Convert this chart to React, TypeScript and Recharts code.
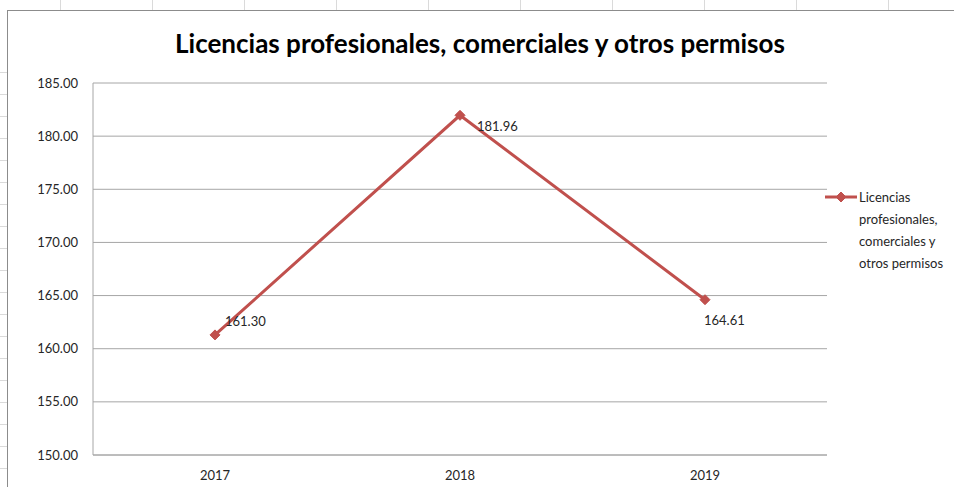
import React from 'react';
import { LineChart, Line, XAxis, YAxis, CartesianGrid, LabelList } from 'recharts';

const years = ['2017', '2018', '2019'];
const licencias = [161.3, 181.96, 164.61];
const yTicks = [150, 155, 160, 165, 170, 175, 180, 185];

const seriesName = 'Licencias profesionales, comerciales y otros permisos';
const legendLines = ['Licencias', 'profesionales,', 'comerciales y', 'otros permisos'];

// manual data label offsets (dx, dy from the point), like the Excel original
const labelOffsets = [
  [10, -13],
  [17, 11],
  [-1, 21],
];

const data = years.map((year, i) => ({ year, value: licencias[i] }));

const RED = '#C0504D';
const FONT = 'Lato, "Open Sans", sans-serif';

const Diamond = (props: any) => {
  const { cx, cy } = props;
  if (cx == null || cy == null) return null;
  const r = 5;
  return (
    <polygon
      points={`${cx},${cy - r} ${cx + r},${cy} ${cx},${cy + r} ${cx - r},${cy}`}
      fill={RED}
      stroke={RED}
    />
  );
};

const DataLabel = (props: any) => {
  const { x, y, value, index } = props;
  const [dx, dy] = labelOffsets[index] || [0, 0];
  return (
    <text
      x={x + dx}
      y={y + dy}
      dy="0.35em"
      fontSize={13}
      fontFamily={FONT}
      fill="#262626"
    >
      {Number(value).toFixed(2)}
    </text>
  );
};

const LegendBox = () => (
  <div
    style={{
      position: 'absolute',
      left: 824,
      top: 186,
      width: 130,
      fontFamily: FONT,
      fontSize: 13,
      color: '#262626',
    }}
  >
    <svg width={34} height={12} style={{ position: 'absolute', left: 0, top: 5 }}>
      <line x1={1} y1={6} x2={33} y2={6} stroke={RED} strokeWidth={3} />
      <Diamond cx={17} cy={6} />
    </svg>
    <div style={{ position: 'absolute', left: 35, top: 0, lineHeight: '22px', whiteSpace: 'nowrap' }}>
      {legendLines.map((t) => (
        <div key={t}>{t}</div>
      ))}
    </div>
  </div>
);

const SheetGrid = () => {
  const cols = [60, 152, 244, 336, 428, 520, 612, 704, 796, 888];
  const rows = Array.from({ length: 19 }, (_, i) => 72 + i * 22);
  return (
    <svg width={954} height={487} style={{ position: 'absolute', left: 0, top: 0 }}>
      {cols.map((x) => (
        <line key={'c' + x} x1={x + 0.5} y1={0} x2={x + 0.5} y2={11} stroke="#dadada" />
      ))}
      {rows.map((y) => (
        <line key={'r' + y} x1={0} y1={y + 0.5} x2={7} y2={y + 0.5} stroke="#dadada" />
      ))}
    </svg>
  );
};

export default function App() {
  return (
    <div
      style={{
        position: 'absolute',
        left: 0,
        top: 0,
        width: 954,
        height: 487,
        overflow: 'hidden',
        background: '#fff',
      }}
    >
      <SheetGrid />
      <div
        style={{
          position: 'absolute',
          left: 7,
          top: 10,
          width: 960,
          height: 490,
          border: '1px solid #8c8c8c',
          background: '#fff',
        }}
      />
      <div
        style={{
          position: 'absolute',
          left: 0,
          top: 27,
          width: 960,
          textAlign: 'center',
          fontFamily: FONT,
          fontWeight: 700,
          fontSize: 26,
          color: '#000',
        }}
      >
        {seriesName}
      </div>
      <div style={{ position: 'absolute', left: 0, top: 0 }}>
        <LineChart
          width={954}
          height={487}
          data={data}
          margin={{ top: 83, right: 127, bottom: 0, left: 0 }}
        >
          <CartesianGrid vertical={false} stroke="#a6a6a6" strokeWidth={1} />
          <XAxis
            dataKey="year"
            height={32}
            padding={{ left: 122, right: 122 }}
            axisLine={{ stroke: '#a6a6a6' }}
            tickLine={false}
            tickSize={0}
            tickMargin={16}
            tick={{ fontSize: 13, fontFamily: FONT, fill: '#262626' }}
          />
          <YAxis
            width={93}
            domain={[150, 185]}
            ticks={yTicks}
            interval={0}
            tickFormatter={(v: number) => v.toFixed(2)}
            axisLine={{ stroke: '#a6a6a6' }}
            tickLine={false}
            tickSize={0}
            tickMargin={15}
            tick={{ fontSize: 13, fontFamily: FONT, fill: '#262626' }}
          />
          <Line
            type="linear"
            dataKey="value"
            name={seriesName}
            stroke={RED}
            strokeWidth={3}
            dot={<Diamond />}
            activeDot={false}
            isAnimationActive={false}
          >
            <LabelList dataKey="value" content={<DataLabel />} />
          </Line>
        </LineChart>
      </div>
      <LegendBox />
    </div>
  );
}
